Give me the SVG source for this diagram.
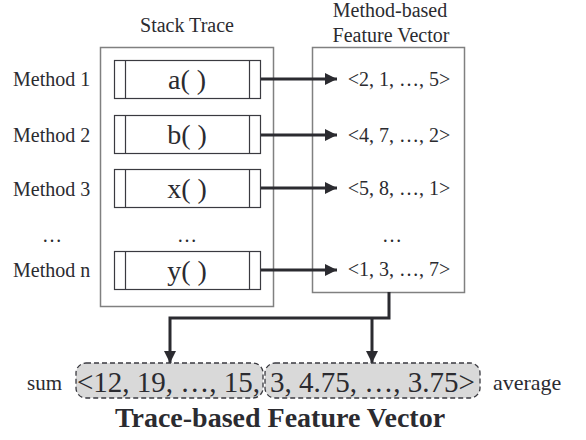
<svg xmlns="http://www.w3.org/2000/svg" width="586" height="440" viewBox="0 0 586 440">
<defs>
<marker id="ah" viewBox="0 0 10 10" refX="10" refY="5" markerWidth="4" markerHeight="4" markerUnits="strokeWidth" orient="auto">
<path d="M0,0 L10,5 L0,10 z" fill="#2b2b30"/>
</marker>
<style>
text{font-family:"Liberation Serif","Times New Roman",serif;fill:#2b2b30}
.lbl{font-size:20px}
.fn{font-size:28px;text-anchor:middle}
.vec{font-size:20px;text-anchor:middle}
.outer{fill:none;stroke:#808080;stroke-width:1.5}
.mbox{fill:#fff;stroke:#3a3a40;stroke-width:1.2}
.conn{fill:none;stroke:#2b2b30;stroke-width:3}
.tv{fill:#d9d9d9;stroke:#3a3a40;stroke-width:1.3;stroke-dasharray:5,3}
.big{font-size:29px}
</style>
</defs>
<rect width="586" height="440" fill="#fff"/>
<text class="lbl" x="187" y="32" text-anchor="middle">Stack Trace</text>
<text class="lbl" x="390" y="17" text-anchor="middle">Method-based</text>
<text class="lbl" x="391" y="42" text-anchor="middle">Feature Vector</text>
<g id="stack">
<rect class="outer" x="100.5" y="47.5" width="173" height="259"/>
</g>
<g id="fvbox">
<rect class="outer" x="312.5" y="47.5" width="152" height="245"/>
</g>
<g id="m1">
<text class="lbl" x="13" y="86">Method 1</text>
<rect class="mbox" x="114.5" y="60.5" width="146" height="38"/>
<line x1="125.5" y1="60.5" x2="125.5" y2="98.5" stroke="#3a3a40" stroke-width="1.2"/>
<line x1="249.5" y1="60.5" x2="249.5" y2="98.5" stroke="#3a3a40" stroke-width="1.2"/>
<text class="fn" x="187" y="89">a( )</text>
</g>
<g id="m2">
<text class="lbl" x="13" y="142">Method 2</text>
<rect class="mbox" x="114.5" y="115.5" width="146" height="38"/>
<line x1="125.5" y1="115.5" x2="125.5" y2="153.5" stroke="#3a3a40" stroke-width="1.2"/>
<line x1="249.5" y1="115.5" x2="249.5" y2="153.5" stroke="#3a3a40" stroke-width="1.2"/>
<text class="fn" x="187" y="144">b( )</text>
</g>
<g id="m3">
<text class="lbl" x="13" y="196">Method 3</text>
<rect class="mbox" x="114.5" y="169.5" width="146" height="38"/>
<line x1="125.5" y1="169.5" x2="125.5" y2="207.5" stroke="#3a3a40" stroke-width="1.2"/>
<line x1="249.5" y1="169.5" x2="249.5" y2="207.5" stroke="#3a3a40" stroke-width="1.2"/>
<text class="fn" x="187" y="198">x( )</text>
</g>
<g id="dots">
<text class="lbl" x="52" y="242" text-anchor="middle">…</text>
<text class="lbl" x="187" y="242" text-anchor="middle">…</text>
<text class="lbl" x="392" y="242" text-anchor="middle">…</text>
</g>
<g id="mn">
<text class="lbl" x="13" y="277">Method n</text>
<rect class="mbox" x="114.5" y="251.5" width="146" height="38"/>
<line x1="125.5" y1="251.5" x2="125.5" y2="289.5" stroke="#3a3a40" stroke-width="1.2"/>
<line x1="249.5" y1="251.5" x2="249.5" y2="289.5" stroke="#3a3a40" stroke-width="1.2"/>
<text class="fn" x="187" y="280">y( )</text>
</g>
<g id="vectors">
<text class="vec" x="399" y="86">&lt;2, 1, …, 5&gt;</text>
<text class="vec" x="399" y="142">&lt;4, 7, …, 2&gt;</text>
<text class="vec" x="399" y="195">&lt;5, 8, …, 1&gt;</text>
<text class="vec" x="399" y="276">&lt;1, 3, …, 7&gt;</text>
</g>
<g id="connectors">
<line class="conn" x1="261" y1="79" x2="337" y2="79" marker-end="url(#ah)"/>
<line class="conn" x1="261" y1="135" x2="337" y2="135" marker-end="url(#ah)"/>
<line class="conn" x1="261" y1="188" x2="337" y2="188" marker-end="url(#ah)"/>
<line class="conn" x1="261" y1="270" x2="337" y2="270" marker-end="url(#ah)"/>
<polyline class="conn" points="389,292 389,318 170,318 170,363" marker-end="url(#ah)"/>
<line class="conn" x1="372" y1="318" x2="372" y2="363" marker-end="url(#ah)"/>
</g>
<g id="tracevec">
<rect class="tv" x="76" y="363" width="187" height="35" rx="10"/>
<rect class="tv" x="265" y="363" width="215" height="35" rx="10"/>
<text class="big" x="77" y="392">&lt;12, 19, …, 15,</text>
<text class="big" x="270" y="392">3, 4.75, …, 3.75&gt;</text>
<text x="27" y="390" font-size="21">sum</text>
<text x="493" y="390" font-size="22">average</text>
<text x="280" y="427" font-size="28" font-weight="bold" text-anchor="middle">Trace-based Feature Vector</text>
</g>
</svg>
